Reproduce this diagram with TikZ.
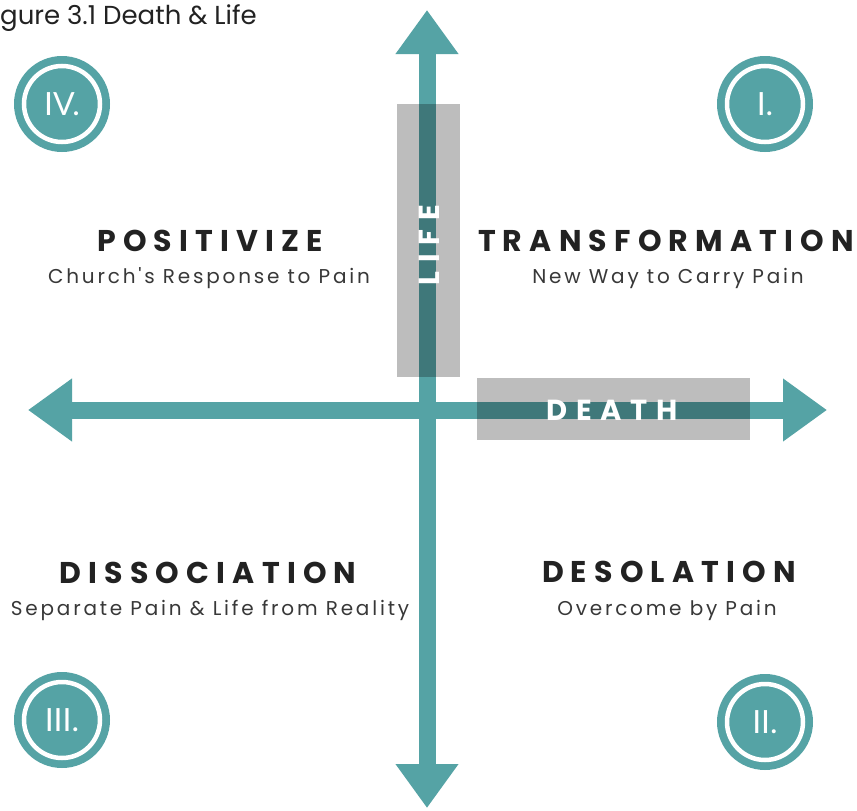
\documentclass[tikz,border=0pt]{standalone}
\usepackage{fontspec}
\setmainfont{Poppins}
\newfontfamily\headfont[LetterSpace=24]{Poppins}
\newfontfamily\axisfont[LetterSpace=30]{Poppins}
\newfontfamily\subfont[LetterSpace=14]{Poppins}
\newfontfamily\numfont{Lato}
\usetikzlibrary{arrows.meta}
\definecolor{teal1}{HTML}{55A3A5}
\definecolor{ink}{HTML}{222222}
\tikzset{
  axis/.style={draw=teal1, line width=17pt,
    {Triangle[width=60pt,length=44pt]}-{Triangle[width=60pt,length=44pt]}},
  shade box/.style={fill=black, fill opacity=0.26, draw=none},
  axis label/.style={text=white, font=\axisfont\bfseries\fontsize{29}{31}\selectfont},
  heading/.style={text=ink, font=\headfont\bfseries\fontsize{30}{32}\selectfont},
  subhead/.style={text=ink!90, font=\subfont\fontsize{20}{23}\selectfont},
  badge/.style={circle, fill=teal1, minimum size=96pt, inner sep=0pt},
  badge ring/.style={circle, draw=white, line width=4.5pt, minimum size=76pt, inner sep=0pt,
    text=white, font=\numfont\fontsize{32}{34}\selectfont},
}
\begin{document}
\begin{tikzpicture}[x=1pt,y=-1pt]
\useasboundingbox (0,0) rectangle (857,811);
\fill[white] (0,0) rectangle (857,811);

% axes
\coordinate (top) at (427,10);
\coordinate (bottom) at (427,808);
\coordinate (left) at (28,410);
\coordinate (right) at (827,410);
\draw[axis] (bottom) -- (top);
\draw[axis] (left) -- (right);

% translucent label panels
\fill[shade box] (397,104) rectangle (460,377);
\fill[shade box] (477,378) rectangle (750,440);
\node[axis label, rotate=90] (life) at (429,245) {LIFE};
\node[axis label] (death) at (612,410) {DEATH};

% title
\node[anchor=west, text=ink, font=\fontsize{26}{28}\selectfont, inner sep=0pt] (title) at (0,18) {gure 3.1 Death \& Life};

% quadrant badges
\foreach \nm/\x/\y/\t in {q4/62/104/IV., q1/765/104/I., q3/62/720/III., q2/765/722/II.}{
  \node[badge] (\nm) at (\x,\y) {};
  \node[badge ring] (\nm t) at (\x,\y) {\t};
}

% quadrant captions
\node[heading] (pos) at (210,241) {POSITIVIZE};
\node[subhead] (possub) at (209,278) {Church's Response to Pain};
\node[heading] (tra) at (666,241) {TRANSFORMATION};
\node[subhead] (trasub) at (668,278) {New Way to Carry Pain};
\node[heading] (dis) at (208,573) {DISSOCIATION};
\node[subhead] (dissub) at (210,610) {Separate Pain \& Life from Reality};
\node[heading] (des) at (669,572) {DESOLATION};
\node[subhead] (dessub) at (667,610) {Overcome by Pain};
\end{tikzpicture}
\end{document}
